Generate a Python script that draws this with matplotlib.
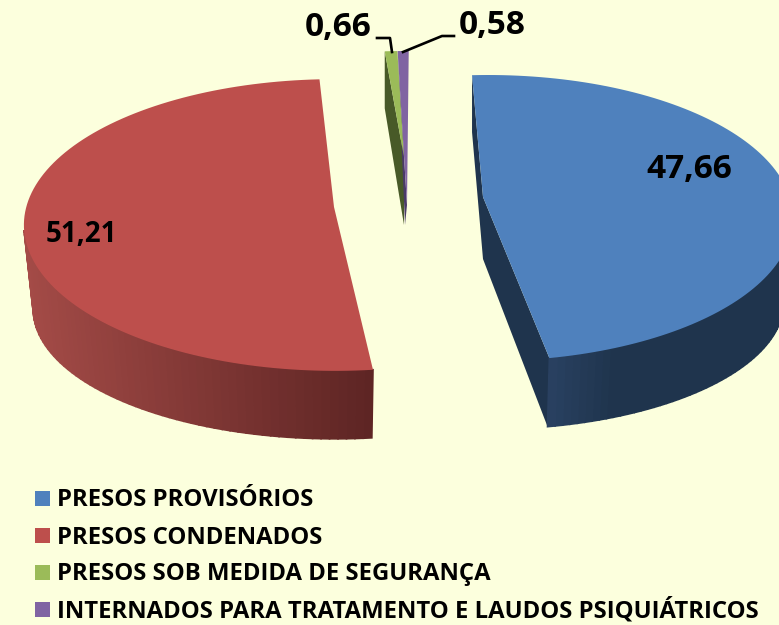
#!/usr/bin/env python3
import matplotlib
matplotlib.use('Agg')
import matplotlib.pyplot as plt
from matplotlib.colors import to_rgb
from matplotlib.patches import Polygon, Rectangle
import numpy as np

labels = ['PRESOS PROVISÓRIOS', 'PRESOS CONDENADOS', 'PRESOS SOB MEDIDA DE SEGURANÇA',
          'INTERNADOS PARA TRATAMENTO E LAUDOS PSIQUIÁTRICOS']
values = [47.66, 51.21, 0.66, 0.58]
value_text = ['47,66', '51,21', '0,66', '0,58']
colors = ['#4f81bd', '#bd4f4c', '#9bbb59', '#8064a2']
side_colors = ['#1f344d', '#5e2524', '#485a28', '#4a3a68']

bg = '#fcffdd'
FONT = 'Open Sans'

# layout of each exploded slice, in pixels: ellipse centre, apex, turn of the slice
centers = [(488, 218), (335, 225), (405, 194), (405, 194)]
apexes = [(483, 197), (334, 207), (404, 157), (407, 205)]
spins = [0.0, 4.6, 3.65, 3.7]
RX, RY = 305, 143
rx_scale = {0: 1.0, 1: 1.02, 2: 1.0, 3: 1.0}
ry_scale = {0: 1.0, 1: 1.02, 2: 1.0, 3: 1.0}
DEPTH = 62


def rim(i, theta, bottom=False):
    cx, cy = centers[i]
    rx = RX * rx_scale[i]
    ry = RY * ry_scale[i]
    if bottom:
        rx, ry, cy = rx * 0.97, ry * 0.89, cy + 84
    t = np.radians(theta)
    return np.column_stack([cx + rx * np.sin(t), cy - ry * np.cos(t)])


fig = plt.figure(figsize=(7.79, 6.25), dpi=100, facecolor=bg)
ax = fig.add_axes([0, 0, 1, 1])
ax.set_xlim(0, 779)
ax.set_ylim(625, 0)
ax.axis('off')

shares = np.array(values) / sum(values) * 360
starts = np.concatenate([[0], np.cumsum(shares)[:-1]])

# thin slices first, then the two big ones
for i in [2, 3, 1, 0]:
    t0 = starts[i] + spins[i] - 3
    t1 = t0 + shares[i]
    thetas = np.linspace(t0, t1, 120)
    top = rim(i, thetas)
    apex = np.array(apexes[i], dtype=float)
    low = apex + [0, DEPTH]
    if i == 0:
        # inner faces that look to the camera
        face = [top[0], top[0] + [0, 57], low, apex]
        ax.add_patch(Polygon(face, fc=side_colors[i], ec='none', zorder=2))
        bot_end = rim(i, np.array([t1]), bottom=True)[0]
        ax.add_patch(Polygon([apex, low, bot_end, top[-1]], fc=side_colors[i], ec='none', zorder=2))
    if i == 2:
        face = [top[0], top[0] + [0, 57], low + [0, 6], apex]
        ax.add_patch(Polygon(face, fc=side_colors[i], ec='none', zorder=4))
    if i == 3:
        ax.add_patch(Polygon([top[0], apex + [-2, 20], apex], fc=side_colors[i], ec='none', zorder=5))

    # outer wall, shaded strip by strip
    if i < 2:
        lo, hi = max(t0, 80), min(t1, 268)
        edges = np.linspace(lo, hi, 60)
        xmid = rim(i, edges)[:, 0]
        light = np.array(to_rgb('#a44b47' if i == 1 else '#2a4263'))
        dark = np.array(to_rgb(side_colors[i]))
        for a, b, xm in zip(edges[:-1], edges[1:], xmid[:-1]):
            strip = np.vstack([rim(i, np.array([a, b])), rim(i, np.array([b, a]), bottom=True)])
            if i == 1:
                f = (xm - 24) / (373 - 24)
            else:
                f = (xm - 548) / 70
            col = light + (dark - light) * np.clip(f, 0, 1)
            ax.add_patch(Polygon(strip, fc=col, ec=col, lw=1.2, zorder=3))

    ax.add_patch(Polygon(np.vstack([apex, top]), fc=colors[i], ec='none', zorder=6 + i))

# value labels
ax.text(689, 170, value_text[0], fontsize=24, fontweight='bold', family=FONT, ha='center', va='center', zorder=20)
ax.text(81, 235, value_text[1], fontsize=20, fontweight='bold', family=FONT, ha='center', va='center', zorder=20)
ax.text(338, 27, value_text[2], fontsize=24, fontweight='bold', family=FONT, ha='center', va='center', zorder=20)
ax.text(492, 25, value_text[3], fontsize=24, fontweight='bold', family=FONT, ha='center', va='center', zorder=20)

# leader lines
ax.plot([377, 390, 392], [38, 38, 52], color='black', lw=1.9, zorder=20)
ax.plot([403, 442, 454], [52, 36, 36], color='black', lw=1.9, zorder=20)

# legend
legend_y = [498.5, 535.5, 572.5, 609.5]
for lab, col, y in zip(labels, colors, legend_y):
    ax.add_patch(Rectangle((35, y - 7.5), 15, 15, fc=col, ec='none'))
    ax.text(57, y + 8, lab, fontsize=17.2, fontweight='bold', family=FONT, ha='left', va='baseline')

fig.savefig('out.png', dpi=100, facecolor=bg)
